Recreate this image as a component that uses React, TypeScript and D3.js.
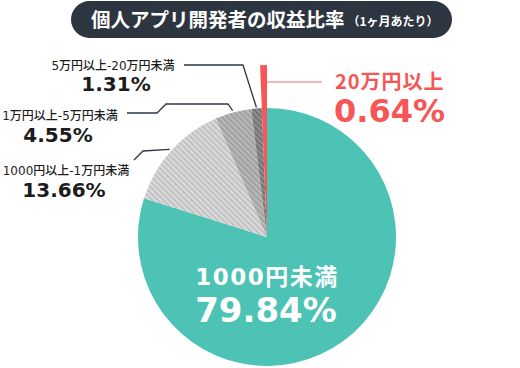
import React from "react";
import * as d3 from "d3";

const categories = ["1000円未満", "1000円以上-1万円未満", "1万円以上-5万円未満", "5万円以上-20万円未満", "20万円以上"];
const values = [79.84, 13.66, 4.55, 1.31, 0.64];
const valueLabels = ["79.84%", "13.66%", "4.55%", "1.31%", "0.64%"];
const titleMain = "個人アプリ開発者の収益比率";
const titleSub = "（1ヶ月あたり）";

const W = 520, H = 368;
const CX = 267, CY = 237, R = 129, R_RED = 172;
const FONT = "'Noto Sans CJK JP', 'Noto Sans', sans-serif";
const NUMFONT = "'DejaVu Sans', 'Noto Sans CJK JP', sans-serif";

const fills = ["#4dc3b5", "url(#hatch1)", "url(#hatch2)", "url(#hatch3)", "#f65656"];

export default function App() {
  const pie = d3.pie<number>().sort(null).startAngle(0).endAngle(2 * Math.PI);
  const arcs = pie(values);
  const arcGen = d3.arc<d3.PieArcDatum<number>>().innerRadius(0);

  const anchor = (i: number, r: number) => {
    const a = (arcs[i].startAngle + arcs[i].endAngle) / 2;
    return [CX + r * Math.sin(a), CY - r * Math.cos(a)];
  };
  const a3 = anchor(3, 130);
  const a2 = anchor(2, 131);
  const a1 = anchor(1, 131);
  const redY = 82;
  const line = d3.line();

  return (
    <svg width={W} height={H} style={{ position: "absolute", left: 0, top: 0 }} fontFamily={FONT}>
      <defs>
        <pattern id="hatch1" patternUnits="userSpaceOnUse" width="4" height="4" patternTransform="rotate(-45)">
          <rect width="4" height="4" fill="#dadada" />
          <rect width="1.6" height="4" fill="#bdbdbd" />
        </pattern>
        <pattern id="hatch2" patternUnits="userSpaceOnUse" width="4" height="4" patternTransform="rotate(-45)">
          <rect width="4" height="4" fill="#b8b8b8" />
          <rect width="1.6" height="4" fill="#9c9c9c" />
        </pattern>
        <pattern id="hatch3" patternUnits="userSpaceOnUse" width="4" height="4" patternTransform="rotate(-45)">
          <rect width="4" height="4" fill="#8e8e8e" />
          <rect width="1.6" height="4" fill="#6e6e6e" />
        </pattern>
      </defs>
      <rect width={W} height={H} fill="#ffffff" />
      {/* title */}
      <rect x={71} y={1} width={381} height={37} rx={18.5} fill="#2d3640" />
      <text x={91} y={27} fill="#ffffff" fontSize={19.5} fontWeight="bold">
        {titleMain}
        <tspan fontSize={12} dx={3} dy={-1}>{titleSub}</tspan>
      </text>

      {/* pie */}
      <g transform={`translate(${CX},${CY})`}>
        {arcs.map((d, i) => (
          <path key={i} d={arcGen.outerRadius(i === 4 ? R_RED : R)(d) as string} fill={fills[i]} />
        ))}
      </g>

      {/* leader lines */}
      <g fill="none" stroke="#2f3740" strokeWidth={1.3}>
        <path d={line([[184, 65], [243, 65], [a3[0], a3[1]]]) as string} />
        <path d={line([[127, 113], [157, 113], [166, 104], [228, 104], [a2[0], a2[1]]]) as string} />
        <path d={line([[134, 160], [143, 151], [a1[0], a1[1]]]) as string} />
      </g>
      <path d={line([[CX, redY], [322, redY]]) as string} stroke="#f89a9a" strokeWidth={1.3} fill="none" />

      {/* labels */}
      <g textAnchor="middle" fill="#1c1c1c" fontWeight="bold" fontFamily={NUMFONT}>
        <text x={113} y={70} fontSize={12} fontWeight={500}>{categories[3]}</text>
        <text x={116} y={91} fontSize={20}>{valueLabels[3]}</text>
        <text x={60} y={120} fontSize={12} fontWeight={500}>{categories[2]}</text>
        <text x={58} y={142} fontSize={20}>{valueLabels[2]}</text>
        <text x={66} y={175} fontSize={12} fontWeight={500}>{categories[1]}</text>
        <text x={64} y={197} fontSize={20}>{valueLabels[1]}</text>
      </g>
      <g fill="#f65656" fontWeight="bold">
        <text x={335} y={89} fontSize={20} letterSpacing={1} fontFamily={FONT}>{categories[4]}</text>
        <text x={334} y={122} fontSize={32} fontFamily={NUMFONT}>{valueLabels[4]}</text>
      </g>
      <g fill="#ffffff" fontWeight="bold" textAnchor="middle" fontFamily={NUMFONT}>
        <text x={267} y={285} fontSize={23} letterSpacing={1.5}>{categories[0]}</text>
        <text x={266} y={322} fontSize={34}>{valueLabels[0]}</text>
      </g>
    </svg>
  );
}
